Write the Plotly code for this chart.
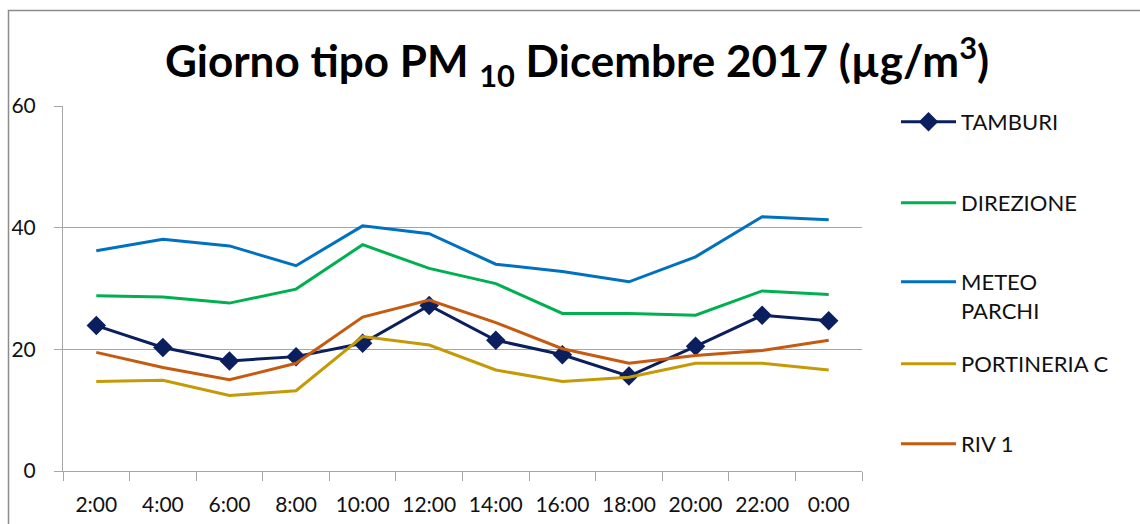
import plotly.graph_objects as go

hours = ["2:00", "4:00", "6:00", "8:00", "10:00", "12:00", "14:00", "16:00", "18:00", "20:00", "22:00", "0:00"]
tamburi = [23.9, 20.3, 18.1, 18.8, 21.0, 27.2, 21.5, 19.1, 15.6, 20.5, 25.6, 24.7]
direzione = [28.8, 28.6, 27.6, 29.9, 37.2, 33.3, 30.8, 25.9, 25.9, 25.6, 29.6, 29.0]
meteo_parchi = [36.2, 38.1, 37.0, 33.75, 40.3, 39.0, 34.0, 32.8, 31.1, 35.2, 41.8, 41.3]
portineria_c = [14.7, 14.9, 12.4, 13.2, 22.1, 20.7, 16.6, 14.7, 15.4, 17.7, 17.7, 16.6]
riv1 = [19.5, 17.0, 15.0, 17.7, 25.3, 28.1, 24.4, 20.1, 17.7, 19.0, 19.8, 21.5]
y_ticks = [0, 20, 40, 60]

FONT = "Lato"
series = [
    ("TAMBURI", tamburi, "#0B1F5E", True),
    ("DIREZIONE", direzione, "#00B050", False),
    ("METEO<br>PARCHI", meteo_parchi, "#0070C0", False),
    ("PORTINERIA C", portineria_c, "#C49A06", False),
    ("RIV 1", riv1, "#C55A11", False),
]

# plot area in pixels
L, R, T, B = 63, 862, 106, 471
W, H = 1140, 524
pw, ph = R - L, B - T

def px_x(x):
    return (x - L) / pw

def px_y(y):
    return (B - y) / ph

legend_y_px = [123, 204, 283, 365, 445]

fig = go.Figure()
for i, (name, vals, color, marker) in enumerate(series):
    lg = "legend" if i == 0 else f"legend{i+1}"
    fig.add_trace(go.Scatter(
        x=hours, y=vals, name=name,
        mode="lines+markers" if marker else "lines",
        line=dict(color=color, width=3),
        marker=dict(symbol="diamond", size=15, color=color) if marker else None,
        legend=lg,
    ))

legend_common = dict(
    font=dict(family=FONT, size=22, color="#111111"),
    bgcolor="rgba(0,0,0,0)", borderwidth=0, itemwidth=55,
    xanchor="left", yanchor="top", valign="top",
)
layout_legends = {}
for i, ypx in enumerate(legend_y_px):
    key = "legend" if i == 0 else f"legend{i+1}"
    layout_legends[key] = dict(legend_common, x=px_x(896), y=px_y(ypx - 22))

fig.update_layout(
    width=W, height=H,
    margin=dict(l=L, r=W - R, t=T, b=H - B, autoexpand=False),
    paper_bgcolor="white", plot_bgcolor="white",
    showlegend=True,
    title=dict(
        text="<b>Giorno tipo PM <sub>10</sub> Dicembre 2017 (µg/m<sup>3</sup>)</b>",
        x=577 / W, xanchor="center", y=1 - 62 / H, yanchor="middle",
        font=dict(family=FONT, size=44, color="#000000"),
    ),
    xaxis=dict(
        type="category", range=[-0.5, 11.5], automargin=False,
        showline=True, linecolor="#A6A6A6", linewidth=1,
        ticks="outside", tickson="boundaries", ticklen=9, tickcolor="#A6A6A6",
        showgrid=False, ticklabelstandoff=15,
        tickfont=dict(family=FONT, size=21, color="#111111"),
    ),
    yaxis=dict(
        range=[0, 60], tickvals=y_ticks, automargin=False,
        showline=True, linecolor="#A6A6A6", linewidth=1,
        ticks="outside", ticklen=8, tickcolor="#A6A6A6",
        showgrid=True, gridcolor="#A6A6A6", gridwidth=1,
        zeroline=False, ticklabelstandoff=14,
        tickfont=dict(family=FONT, size=21, color="#111111"),
    ),
    shapes=[dict(
        type="rect", xref="paper", yref="paper",
        x0=px_x(8.5), x1=px_x(1150), y0=px_y(540), y1=px_y(10.5),
        line=dict(color="#8C8C8C", width=1.5), fillcolor="rgba(0,0,0,0)", layer="below",
    )],
    **layout_legends,
)

fig.write_html("out.html", config={"displayModeBar": False},
               post_script="document.body.style.margin='0px';")
